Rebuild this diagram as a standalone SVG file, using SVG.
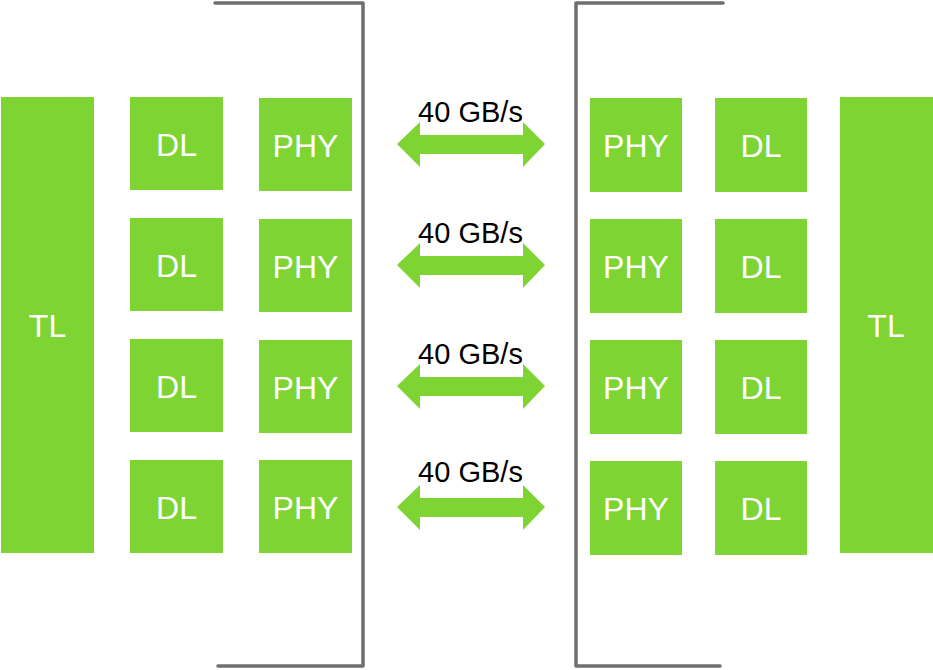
<svg xmlns="http://www.w3.org/2000/svg" width="933" height="670" viewBox="0 0 933 670">
<style>
.box{fill:#7ed432}
.lbl{font-family:"Liberation Sans",Arial,sans-serif;font-size:32px;fill:#ffffff;text-anchor:middle}
.bw{font-family:"Liberation Sans",Arial,sans-serif;font-size:29px;fill:#000000;text-anchor:middle}
.br{fill:none;stroke:#6f6f6f;stroke-width:3.5;stroke-linejoin:round;stroke-linecap:round}
.arr{fill:#7ed432}
</style>
<defs>
<path id="dbl" d="M397,0 L420,-22 L420,-9 L523,-9 L523,-22 L545,0 L523,23 L523,10 L420,10 L420,23 Z"/>
</defs>
<rect width="933" height="670" fill="#ffffff"/>
<g id="brackets">
<path class="br" d="M215,3 L363,3 L363,666 L218,666"/>
<path class="br" d="M723,3 L576,3 L576,666 L720,666"/>
</g>
<g id="tl-left"><rect class="box" x="1" y="97" width="93" height="456"/><text class="lbl" x="47.5" y="337">TL</text></g>
<g id="tl-right"><rect class="box" x="840" y="97" width="93" height="456"/><text class="lbl" x="886" y="337">TL</text></g>
<g id="dl-l1"><rect class="box" x="130" y="97" width="93" height="93"/><text class="lbl" x="176.5" y="156">DL</text></g>
<g id="dl-l2"><rect class="box" x="130" y="218" width="93" height="93"/><text class="lbl" x="176.5" y="277">DL</text></g>
<g id="dl-l3"><rect class="box" x="130" y="339" width="93" height="93"/><text class="lbl" x="176.5" y="398">DL</text></g>
<g id="dl-l4"><rect class="box" x="130" y="460" width="93" height="93"/><text class="lbl" x="176.5" y="519">DL</text></g>
<g id="phy-l1"><rect class="box" x="259" y="98" width="93" height="93"/><text class="lbl" x="305.5" y="157">PHY</text></g>
<g id="phy-l2"><rect class="box" x="259" y="219" width="93" height="93"/><text class="lbl" x="305.5" y="278">PHY</text></g>
<g id="phy-l3"><rect class="box" x="259" y="340" width="93" height="93"/><text class="lbl" x="305.5" y="399">PHY</text></g>
<g id="phy-l4"><rect class="box" x="259" y="460" width="93" height="93"/><text class="lbl" x="305.5" y="519">PHY</text></g>
<g id="phy-r1"><rect class="box" x="590" y="98" width="92" height="94"/><text class="lbl" x="636" y="157">PHY</text></g>
<g id="phy-r2"><rect class="box" x="590" y="219" width="92" height="94"/><text class="lbl" x="636" y="278">PHY</text></g>
<g id="phy-r3"><rect class="box" x="590" y="340" width="92" height="94"/><text class="lbl" x="636" y="399">PHY</text></g>
<g id="phy-r4"><rect class="box" x="590" y="461" width="92" height="94"/><text class="lbl" x="636" y="520">PHY</text></g>
<g id="dl-r1"><rect class="box" x="715" y="98" width="92" height="94"/><text class="lbl" x="761" y="157">DL</text></g>
<g id="dl-r2"><rect class="box" x="715" y="219" width="92" height="94"/><text class="lbl" x="761" y="278">DL</text></g>
<g id="dl-r3"><rect class="box" x="715" y="340" width="92" height="94"/><text class="lbl" x="761" y="399">DL</text></g>
<g id="dl-r4"><rect class="box" x="715" y="461" width="92" height="94"/><text class="lbl" x="761" y="520">DL</text></g>
<g id="connectors">
<use href="#dbl" class="arr" y="144"/>
<use href="#dbl" class="arr" y="265"/>
<use href="#dbl" class="arr" y="386"/>
<use href="#dbl" class="arr" y="507"/>
<text class="bw" x="470.5" y="122">40 GB/s</text>
<text class="bw" x="470.5" y="243">40 GB/s</text>
<text class="bw" x="470.5" y="364">40 GB/s</text>
<text class="bw" x="470.5" y="482">40 GB/s</text>
</g>
</svg>
